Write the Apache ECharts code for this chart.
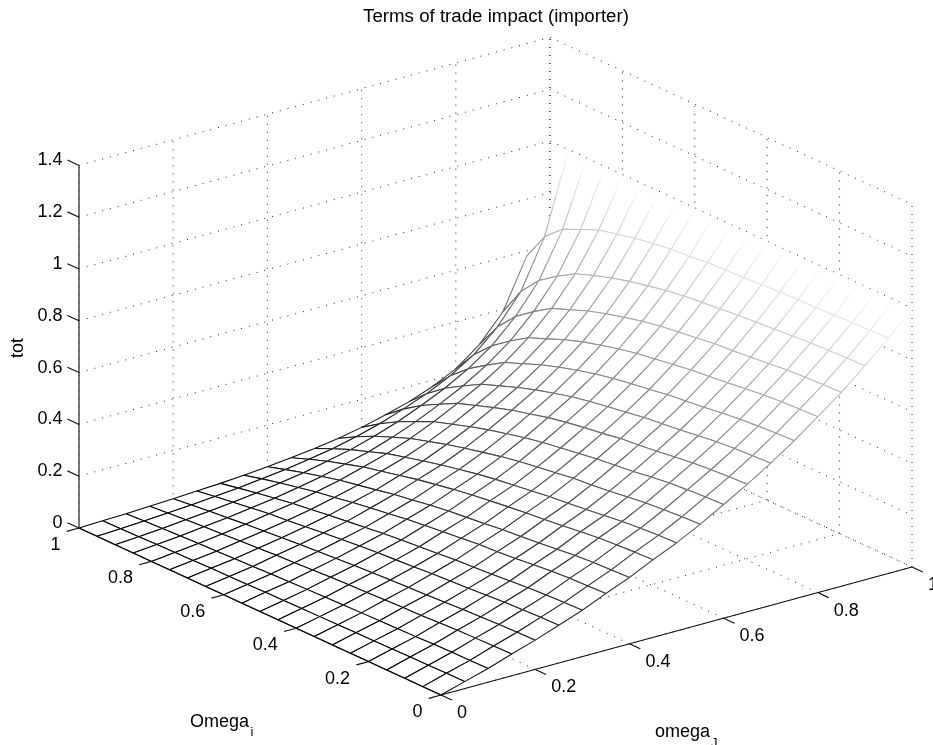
<!DOCTYPE html>
<html><head><meta charset="utf-8">
<style>html,body{margin:0;padding:0;background:#fff}#c{width:933px;height:745px}</style>
<script src="https://cdn.jsdelivr.net/npm/echarts@6/dist/echarts.min.js"></script>
</head><body><div id="c"></div>
<script>
const chartTitle = 'Terms of trade impact (importer)';
const omegaJ = [0,.05,.1,.15,.2,.25,.3,.35,.4,.45,.5,.55,.6,.65,.7,.75,.8,.85,.9,.95,1];
const omegaI = [0,.05,.1,.15,.2,.25,.3,.35,.4,.45,.5,.55,.6,.65,.7,.75,.8,.85,.9,.95,1];
const ticksJ = [0,.2,.4,.6,.8,1];
const ticksI = [0,.2,.4,.6,.8,1];
const ticksZ = [0,.2,.4,.6,.8,1,1.2,1.4];
const labelsJ = ['0','0.2','0.4','0.6','0.8','1'];
const labelsI = ['0','0.2','0.4','0.6','0.8','1'];
const labelsZ = ['0','0.2','0.4','0.6','0.8','1','1.2','1.4'];
// tot[omegaJ index][omegaI index]
const tot = [
[0,0,0,0,0,0,0,0,0,0,0,0,0,0,0,0,0,0,0,0,0],
[.027,.027,.026,.025,.024,.023,.022,.021,.020,.019,.018,.017,.015,.014,.013,.011,.010,.008,.006,.005,.003],
[.053,.052,.051,.050,.047,.045,.044,.042,.040,.038,.036,.033,.031,.028,.025,.022,.020,.016,.013,.010,.006],
[.084,.083,.081,.079,.076,.072,.070,.067,.064,.061,.058,.054,.050,.046,.041,.037,.032,.027,.022,.016,.010],
[.113,.111,.109,.106,.102,.098,.094,.091,.087,.083,.079,.074,.068,.063,.057,.051,.045,.037,.030,.022,.014],
[.146,.144,.141,.138,.133,.127,.123,.119,.113,.108,.103,.097,.090,.083,.075,.067,.060,.050,.040,.030,.019],
[.179,.177,.173,.169,.163,.157,.152,.147,.140,.134,.128,.121,.112,.103,.094,.084,.075,.063,.051,.038,.024],
[.219,.216,.213,.208,.201,.193,.187,.182,.174,.167,.159,.151,.140,.130,.119,.106,.095,.080,.065,.049,.031],
[.256,.253,.249,.244,.236,.228,.221,.215,.206,.198,.190,.180,.168,.157,.143,.129,.116,.098,.080,.060,.039],
[.300,.297,.292,.287,.279,.270,.262,.255,.246,.237,.227,.216,.203,.190,.174,.158,.142,.121,.100,.075,.049],
[.340,.337,.332,.326,.317,.308,.300,.293,.283,.273,.263,.251,.237,.222,.205,.187,.169,.144,.120,.091,.060],
[.387,.384,.379,.373,.364,.354,.346,.339,.328,.318,.307,.294,.278,.262,.244,.223,.203,.175,.147,.113,.074],
[.439,.436,.431,.425,.416,.405,.397,.389,.378,.367,.356,.342,.325,.308,.288,.265,.243,.211,.178,.138,.092],
[.492,.489,.484,.478,.469,.459,.451,.443,.431,.421,.409,.395,.377,.359,.337,.313,.289,.253,.216,.170,.115],
[.549,.546,.541,.535,.526,.516,.508,.500,.488,.477,.465,.451,.432,.413,.390,.364,.338,.299,.258,.205,.141],
[.611,.608,.603,.597,.589,.579,.571,.563,.551,.541,.529,.514,.496,.476,.453,.425,.397,.355,.309,.249,.175],
[.679,.676,.672,.666,.658,.649,.641,.634,.623,.612,.601,.586,.568,.549,.525,.496,.468,.423,.373,.306,.219],
[.748,.746,.742,.738,.730,.723,.716,.710,.700,.691,.681,.668,.651,.633,.611,.584,.557,.512,.461,.388,.288],
[.826,.824,.821,.818,.812,.806,.801,.796,.788,.781,.773,.762,.748,.733,.714,.691,.666,.624,.575,.501,.390],
[.907,.906,.904,.900,.897,.895,.892,.889,.885,.881,.878,.870,.865,.854,.843,.826,.810,.780,.748,.687,.578],
[.995,.995,.995,.995,.995,.994,.994,.994,.994,.993,.993,.993,.993,.992,.992,.992,.991,.991,.991,.990,null]
];
// orthographic view of the 3-D box, in page units of the hidden 2-D axes
const view = {ox:441, oy:695, jx:471, jy:-128, ix:-362, iy:-167, zy:-259};
const project = (j,i,z) => [view.ox+view.jx*j+view.ix*i, view.oy+view.jy*j+view.iy*i+view.zy*z];
const gray = z => { const g=Math.round(255*Math.min(1,Math.max(0,z))); return `rgb(${g},${g},${g})`; };

const dottedLines = [];
ticksJ.forEach(t=>{dottedLines.push([[t,0,0],[t,1,0]]);dottedLines.push([[t,1,0],[t,1,1.4]]);});
ticksI.forEach(t=>{dottedLines.push([[0,t,0],[1,t,0]]);dottedLines.push([[1,t,0],[1,t,1.4]]);});
ticksZ.forEach(t=>{dottedLines.push([[0,1,t],[1,1,t]]);dottedLines.push([[1,1,t],[1,0,t]]);});

const zAxisLine = [[0,1,0],[0,1,1.4]];
const solidLines = [[[0,1,0],[0,0,0]],[[0,0,0],[1,0,0]]];
ticksZ.forEach(t=>solidLines.push([[0,1,t],[0,1.032,t]]));
ticksI.forEach(t=>solidLines.push([[0,t,0],[-.026,t,0]]));
ticksJ.forEach(t=>solidLines.push([[t,0,0],[t,-.03,0]]));

const cells = [];
for(let a=omegaJ.length-2;a>=0;a--) for(let b=omegaI.length-2;b>=0;b--) cells.push([a,b]);

const segItem = (api,seg,dash,color,width) => {
  const p=api.coord(project(...seg[0])), q=api.coord(project(...seg[1]));
  return {type:'line',shape:{x1:p[0],y1:p[1],x2:q[0],y2:q[1]},style:{stroke:color,lineWidth:width||1,lineDash:dash||null}};
};
const LABEL_FONT = '18px "Liberation Sans", Arial, sans-serif';
const labelItems = [];
ticksZ.forEach((t,k)=>labelItems.push({at:[0,1,t],dx:-16.5,dy:-5,align:'right',text:labelsZ[k]}));
ticksI.forEach((t,k)=>labelItems.push({at:[0,t,0],dx:-18.5,dy:17,align:'right',text:labelsI[k]}));
ticksJ.forEach((t,k)=>labelItems.push({at:[t,0,0],dx:16,dy:18,align:'left',text:labelsJ[k]}));

const hidden = {type:'value',show:false,min:0,scale:true};
const option = {
  animation:false,
  backgroundColor:'#fff',
  title:{text:chartTitle,left:491,top:2,textAlign:'center',textStyle:{fontFamily:'Liberation Sans',fontWeight:'normal',fontSize:18.7,color:'#000'}},
  grid:{left:0,right:0,top:0,bottom:0},
  xAxis:{...hidden,max:933},
  yAxis:{...hidden,max:745,inverse:true},
  graphic:[
    {type:'text',x:18.5,y:348,rotation:Math.PI/2,style:{text:'tot',font:LABEL_FONT,fill:'#000',align:'center',verticalAlign:'middle'}},
    {type:'text',x:190,y:722,style:{text:'Omega',font:LABEL_FONT,fill:'#000',align:'left',verticalAlign:'middle'}},
    {type:'text',x:250.5,y:732,style:{text:'i',font:'13px "Liberation Sans", Arial, sans-serif',fill:'#000',align:'left',verticalAlign:'middle'}},
    {type:'text',x:655,y:732,style:{text:'omega',font:LABEL_FONT,fill:'#000',align:'left',verticalAlign:'middle'}},
    {type:'text',x:711,y:743,style:{text:'J',font:'13px "Liberation Sans", Arial, sans-serif',fill:'#000',align:'left',verticalAlign:'middle'}}
  ],
  series:[
    {type:'custom',coordinateSystem:'cartesian2d',silent:true,clip:false,z:1,data:dottedLines.map((_,k)=>[k]),
      renderItem:(p,api)=>segItem(api,dottedLines[api.value(0)],[1,7],'#222')},
    {type:'custom',coordinateSystem:'cartesian2d',silent:true,clip:false,z:2,data:cells,
      renderItem:(p,api)=>{
        const a=api.value(0),b=api.value(1);
        const idx=[[a,b],[a+1,b],[a+1,b+1],[a,b+1]];
        const pts=idx.map(([m,n])=>tot[m][n]===null?null:api.coord(project(omegaJ[m],omegaI[n],tot[m][n])));
        const children=[];
        if(pts.every(Boolean)) children.push({type:'polygon',shape:{points:pts},style:{fill:'#fff',stroke:null}});
        for(let k=0;k<4;k++){
          const u=pts[k],v=pts[(k+1)%4];
          if(!u||!v) continue;
          const zu=tot[idx[k][0]][idx[k][1]],zv=tot[idx[(k+1)%4][0]][idx[(k+1)%4][1]];
          children.push({type:'line',shape:{x1:u[0],y1:u[1],x2:v[0],y2:v[1]},
            style:{lineWidth:1.08,stroke:{type:'linear',global:true,x:u[0],y:u[1],x2:v[0],y2:v[1],
              colorStops:[{offset:0,color:gray(zu)},{offset:1,color:gray(zv)}]}}});
        }
        return {type:'group',children};
      }},
    {type:'custom',coordinateSystem:'cartesian2d',silent:true,clip:false,z:3,data:[[0]],
      renderItem:(p,api)=>segItem(api,zAxisLine,null,'#555',1.6)},
    {type:'custom',coordinateSystem:'cartesian2d',silent:true,clip:false,z:3,data:solidLines.map((_,k)=>[k]),
      renderItem:(p,api)=>segItem(api,solidLines[api.value(0)],null,'#111',1.15)},
    {type:'custom',coordinateSystem:'cartesian2d',silent:true,clip:false,z:4,data:labelItems.map((_,k)=>[k]),
      renderItem:(p,api)=>{
        const it=labelItems[api.value(0)];
        const c=api.coord(project(...it.at));
        return {type:'text',style:{text:it.text,x:c[0]+it.dx,y:c[1]+it.dy,font:LABEL_FONT,fill:'#000',align:it.align,verticalAlign:'middle'}};
      }}
  ]
};
const chart=echarts.init(document.getElementById('c'),null,{renderer:'canvas'});
chart.setOption(option);
</script></body></html>
